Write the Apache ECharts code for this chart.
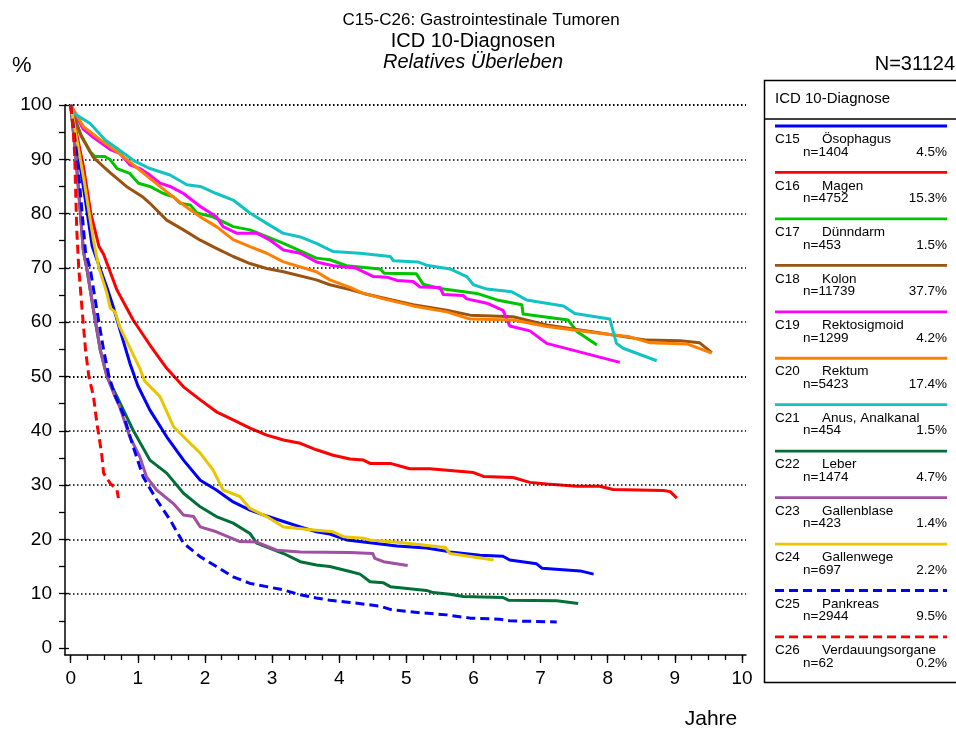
<!DOCTYPE html>
<html><head><meta charset="utf-8">
<script src="https://cdn.jsdelivr.net/npm/echarts@6/dist/echarts.min.js"></script>
<style>html,body{margin:0;padding:0;background:#fff}#c{width:956px;height:730px}</style>
</head><body><div id="c"></div>
<script>
// ---------- data ----------
const codes  = ['C15','C16','C17','C18','C19','C20','C21','C22','C23','C24','C25','C26'];
const names  = ['Ösophagus','Magen','Dünndarm','Kolon','Rektosigmoid','Rektum','Anus, Analkanal','Leber','Gallenblase','Gallenwege','Pankreas','Verdauungsorgane'];
const counts = [1404,4752,453,11739,1299,5423,454,1474,423,697,2944,62];
const shares = ['4.5','15.3','1.5','37.7','4.2','17.4','1.5','4.7','1.4','2.2','9.5','0.2'];
const colors = ['#0000ff','#ff0000','#00c400','#9b5311','#ff00ff','#ff8000','#13c2c2','#007038','#a050a0','#e8c600','#0000ff','#ff0000'];
const dashed = [false,false,false,false,false,false,false,false,false,false,true,true];
const xTickLabels = [0,1,2,3,4,5,6,7,8,9,10];
const yTickLabels = [0,10,20,30,40,50,60,70,80,90,100];
const gridValues  = [10,20,30,40,50,60,70,80,90,100];

const c15 = [[0,100],[0.1,92],[0.2,84],[0.32,74],[0.42,70.5],[0.55,66],[0.63,63],[0.76,57.5],[0.88,52.5],[1.0,48.3],[1.18,43.8],[1.43,38.9],[1.68,34.6],[1.93,30.9],[2.17,29.1],[2.42,26.9],[2.67,25.4],[2.92,24.3],[3.17,23.3],[3.42,22.3],[3.66,21.4],[3.86,21.0],[4.11,19.9],[4.46,19.4],[4.86,18.8],[5.30,18.4],[5.65,17.7],[6.10,17.1],[6.44,16.9],[6.54,16.2],[6.94,15.5],[7.02,14.7],[7.59,14.2],[7.79,13.6]];
const c16 = [[0,100],[0.1,94],[0.19,88.6],[0.3,80],[0.42,74],[0.49,72.5],[0.69,65.9],[0.93,60.4],[1.18,55.8],[1.43,51.5],[1.68,48.1],[1.93,45.7],[2.17,43.5],[2.42,42.0],[2.67,40.5],[2.92,39.2],[3.17,38.3],[3.42,37.7],[3.66,36.5],[3.91,35.5],[4.16,34.8],[4.36,34.6],[4.46,34.0],[4.76,34.0],[5.05,33.0],[5.35,33.0],[6.00,32.3],[6.15,31.6],[6.59,31.4],[6.84,30.5],[7.09,30.2],[7.54,29.8],[7.88,29.8],[8.08,29.2],[8.83,29.0],[8.93,28.8],[9.03,27.6]];
const c17 = [[0,100],[0.14,94.8],[0.29,91.4],[0.36,90.5],[0.51,90.5],[0.59,89.9],[0.69,88.3],[0.88,87.4],[1.01,85.6],[1.18,85.0],[1.38,83.7],[1.53,83.1],[1.63,81.9],[1.78,81.6],[1.88,80.1],[2.12,79.4],[2.42,77.6],[2.67,77.0],[3.17,74.5],[3.66,71.8],[3.86,71.5],[4.11,70.4],[4.61,69.8],[4.67,69.0],[5.15,68.9],[5.25,67.0],[5.50,66.2],[6.05,65.3],[6.35,64.1],[6.72,63.2],[6.74,61.5],[7.41,60.4],[7.54,58.3],[7.84,55.8]];
const c18 = [[0,100],[0.09,96.5],[0.16,94.2],[0.34,90.3],[0.59,87.5],[0.83,85.0],[1.08,83.0],[1.18,81.9],[1.43,78.8],[1.68,77.0],[1.93,75.1],[2.17,73.6],[2.42,72.1],[2.67,70.8],[2.92,69.9],[3.17,69.3],[3.66,67.8],[3.86,66.9],[4.16,66.0],[4.36,65.3],[5.1,63.2],[5.6,62.2],[5.95,61.3],[6.59,61.0],[7.09,59.5],[7.84,58.1],[8.58,56.7],[9.08,56.6],[9.37,56.2],[9.55,54.4]];
const c19 = [[0,100],[0.19,95.5],[0.34,94.0],[0.59,91.8],[0.73,91.1],[0.88,89.0],[1.03,88.3],[1.18,87.1],[1.33,85.6],[1.48,85.0],[1.68,83.7],[1.93,81.3],[2.17,79.4],[2.27,77.6],[2.47,76.4],[2.77,76.4],[2.97,75.1],[3.17,73.3],[3.42,72.7],[3.66,71.1],[3.91,70.4],[4.24,70.0],[4.51,68.4],[4.71,68.3],[4.86,67.7],[5.10,67.5],[5.20,66.5],[5.50,66.4],[5.55,65.1],[5.85,64.9],[5.90,64.3],[6.20,63.5],[6.44,62.2],[6.54,59.3],[6.84,58.4],[7.09,56.1],[8.18,52.6]];
const c20 = [[0,100],[0.19,96.0],[0.44,93.6],[0.69,91.4],[0.93,89.0],[1.18,86.5],[1.43,84.0],[1.68,81.6],[1.93,79.4],[2.17,77.6],[2.42,75.2],[2.67,73.9],[2.92,72.7],[3.17,71.1],[3.66,69.3],[3.86,67.8],[4.16,66.4],[4.36,65.3],[4.66,64.3],[5.10,63.0],[5.60,61.9],[5.95,60.6],[6.59,60.4],[7.09,59.2],[7.84,58.0],[8.33,57.3],[8.63,56.2],[9.18,56.0],[9.55,54.3]];
const c21 = [[0,100],[0.04,98.5],[0.29,96.6],[0.51,93.6],[0.76,91.4],[0.96,89.6],[1.18,88.3],[1.48,87.1],[1.73,85.3],[1.93,85.0],[2.17,83.7],[2.42,82.5],[2.67,80.1],[2.92,78.2],[3.16,76.4],[3.42,75.7],[3.66,74.5],[3.91,73.0],[4.31,72.7],[4.76,72.1],[4.81,71.3],[5.17,71.1],[5.30,70.5],[5.65,69.8],[5.90,68.4],[6.00,66.9],[6.20,66.1],[6.57,65.6],[6.79,64.1],[7.34,63.0],[7.51,61.6],[8.03,60.6],[8.13,56.1],[8.23,55.2],[8.73,52.9]];
const c22 = [[0,100],[0.08,90],[0.19,73],[0.24,69.9],[0.34,62.2],[0.44,54.9],[0.54,50],[0.69,46.3],[0.93,40.1],[1.18,34.6],[1.43,32.2],[1.68,28.5],[1.93,26.0],[2.17,24.2],[2.42,23.0],[2.67,21.1],[2.77,19.3],[3.17,17.4],[3.42,15.9],[3.66,15.3],[3.86,15.0],[4.16,14.1],[4.31,13.6],[4.46,12.2],[4.66,12.0],[4.76,11.3],[5.30,10.6],[5.40,10.2],[5.65,9.9],[5.85,9.5],[6.44,9.3],[6.52,8.8],[7.24,8.7],[7.56,8.2]];
const c23 = [[0,100],[0.08,90],[0.19,73],[0.24,69.9],[0.34,62.2],[0.44,54.9],[0.54,50],[0.66,46.3],[0.73,44.4],[0.88,38.9],[1.03,35.2],[1.13,31.5],[1.28,29.1],[1.53,26.6],[1.68,24.5],[1.83,24.2],[1.93,22.3],[2.17,21.4],[2.52,19.6],[2.77,19.5],[3.07,18.0],[3.42,17.7],[4.16,17.6],[4.50,17.4],[4.53,16.5],[4.66,15.9],[5.02,15.2]];
const c24 = [[0,100],[0.1,93],[0.2,86],[0.34,75],[0.42,70],[0.54,65.3],[0.59,62.6],[0.66,61.9],[0.73,59.2],[0.88,55.3],[1.03,51.5],[1.10,49.2],[1.33,46.3],[1.53,40.8],[1.73,38.3],[1.93,35.9],[2.12,32.8],[2.27,29.1],[2.52,27.9],[2.67,25.7],[2.92,24.2],[3.17,22.3],[3.66,21.7],[3.91,21.4],[4.06,20.5],[4.36,20.2],[4.46,19.9],[4.95,19.4],[5.58,18.5],[5.65,17.4],[6.30,16.2]];
const c25 = [[0,100],[0.1,90],[0.15,83],[0.22,73],[0.29,69.9],[0.39,62.2],[0.49,54.9],[0.57,50],[0.66,46.5],[0.78,43.2],[0.93,37.1],[1.08,31.5],[1.28,27.3],[1.48,23.6],[1.68,19.3],[1.93,16.8],[2.17,15.0],[2.42,13.1],[2.67,11.9],[2.92,11.3],[3.17,10.7],[3.42,9.8],[3.66,9.2],[3.86,8.8],[4.16,8.4],[4.61,7.7],[4.76,7.1],[5.20,6.5],[5.60,6.1],[5.95,5.5],[6.39,5.3],[6.54,5.0],[7.24,4.8]];
const c26 = [[0,100],[0.04,95.4],[0.06,90.5],[0.09,77],[0.12,70],[0.17,62.2],[0.22,55],[0.27,50],[0.34,46.3],[0.39,41.4],[0.46,35.9],[0.49,32.2],[0.59,30.3],[0.69,29.1],[0.71,27.6]];
const curves = [c15,c16,c17,c18,c19,c20,c21,c22,c23,c24,c25,c26];

// ---------- chart ----------
const FONT = '"Liberation Sans", Arial, sans-serif';
const quarterTicks = [];
for (let i = 0; i <= 40; i++) quarterTicks.push(i * 0.25);
const fiveTicks = [];
for (let i = 0; i <= 20; i++) fiveTicks.push(i * 5);

const series = [{
  type: 'line', data: [], silent: true, xAxisIndex: 0, yAxisIndex: 0,
  markLine: {
    silent: true, symbol: 'none', animation: false, label: {show: false},
    data: gridValues.map(v => ({yAxis: v, lineStyle: {color: '#000', width: (v === 100 || v === 50) ? 2.2 : 1.5, type: [1.5, 2.5]}}))
  }
}];
curves.forEach((d, i) => {
  series.push({
    type: 'line', name: codes[i], data: d, showSymbol: false, symbol: 'none', silent: true,
    xAxisIndex: 0, yAxisIndex: 0,
    lineStyle: {color: colors[i], width: 3, type: dashed[i] ? [9, 5] : 'solid', cap: 'butt', join: 'round'},
    z: 3 + i
  });
});

// titles and legend box via graphic
const graphics = [];
const txt = (x, y, s, font, align) => ({
  type: 'text', x: x, y: y, silent: true,
  style: {text: s, fill: '#000', font: font, textVerticalAlign: 'middle', textAlign: align || 'left'}
});
const F = (size, extra) => (extra ? extra + ' ' : '') + size + 'px ' + FONT;
graphics.push(txt(481, 20, 'C15-C26: Gastrointestinale Tumoren', F(17), 'center'));
graphics.push(txt(473, 41, 'ICD 10-Diagnosen', F(20), 'center'));
graphics.push(txt(473, 62, 'Relatives Überleben', F(20, 'italic'), 'center'));
graphics.push(txt(12, 66, '%', F(22)));
graphics.push(txt(955, 64, 'N=31124', F(20), 'right'));
graphics.push(txt(711, 719, 'Jahre', F(21), 'center'));
graphics.push({type: 'rect', shape: {x: 764.5, y: 80.5, width: 220, height: 602}, style: {fill: 'none', stroke: '#000', lineWidth: 1.5}, silent: true});
graphics.push({type: 'line', shape: {x1: 764.5, y1: 119, x2: 956, y2: 119}, style: {stroke: '#000', lineWidth: 1.5}, silent: true});
graphics.push(txt(775, 98.5, 'ICD 10-Diagnose', F(15)));
codes.forEach((c, i) => {
  const y0 = 126 + i * 46.45;
  graphics.push({type: 'line', silent: true, shape: {x1: 775, y1: y0, x2: 947, y2: y0},
    style: {stroke: colors[i], lineWidth: 2.8, lineDash: dashed[i] ? [9, 5] : null}});
  graphics.push(txt(775, y0 + 13.5, c, F(13.5)));
  graphics.push(txt(822, y0 + 13.5, names[i], F(13.5)));
  graphics.push(txt(803, y0 + 26, 'n=' + counts[i], F(13.5)));
  graphics.push(txt(947, y0 + 26, shares[i] + '%', F(13.5), 'right'));
});

const chart = echarts.init(document.getElementById('c'), null, {renderer: 'canvas'});
chart.setOption({
  animation: false,
  backgroundColor: '#fff',
  grid: {left: 65, right: 210, top: 105, bottom: 75, containLabel: false},
  xAxis: [{
    type: 'value', min: -0.085, max: 10.06,
    axisLine: {show: true, onZero: false, lineStyle: {color: '#000', width: 1.5}},
    axisTick: {show: true, customValues: quarterTicks, length: 5, lineStyle: {color: '#000', width: 1.3}},
    axisLabel: {show: true, customValues: xTickLabels, fontSize: 19, color: '#000', margin: 14, fontFamily: FONT},
    splitLine: {show: false}
  }, {
    type: 'value', min: -0.085, max: 10.06, position: 'bottom',
    axisLine: {show: false, onZero: false},
    axisTick: {show: true, customValues: xTickLabels, length: 8, lineStyle: {color: '#000', width: 1.3}},
    axisLabel: {show: false}, splitLine: {show: false}
  }],
  yAxis: [{
    type: 'value', min: -1.29, max: 100,
    axisLine: {show: true, onZero: false, lineStyle: {color: '#000', width: 1.5}},
    axisTick: {show: true, customValues: fiveTicks, length: 6, lineStyle: {color: '#000', width: 1.3}},
    axisLabel: {show: true, customValues: yTickLabels, fontSize: 19, color: '#000', margin: 13, fontFamily: FONT},
    splitLine: {show: false}
  }, {
    type: 'value', min: -1.29, max: 100, position: 'left',
    axisLine: {show: false, onZero: false},
    axisTick: {show: true, inside: true, customValues: yTickLabels, length: 4, lineStyle: {color: '#000', width: 1.3}},
    axisLabel: {show: false}, splitLine: {show: false}
  }],
  series: series,
  graphic: graphics
});
</script></body></html>
